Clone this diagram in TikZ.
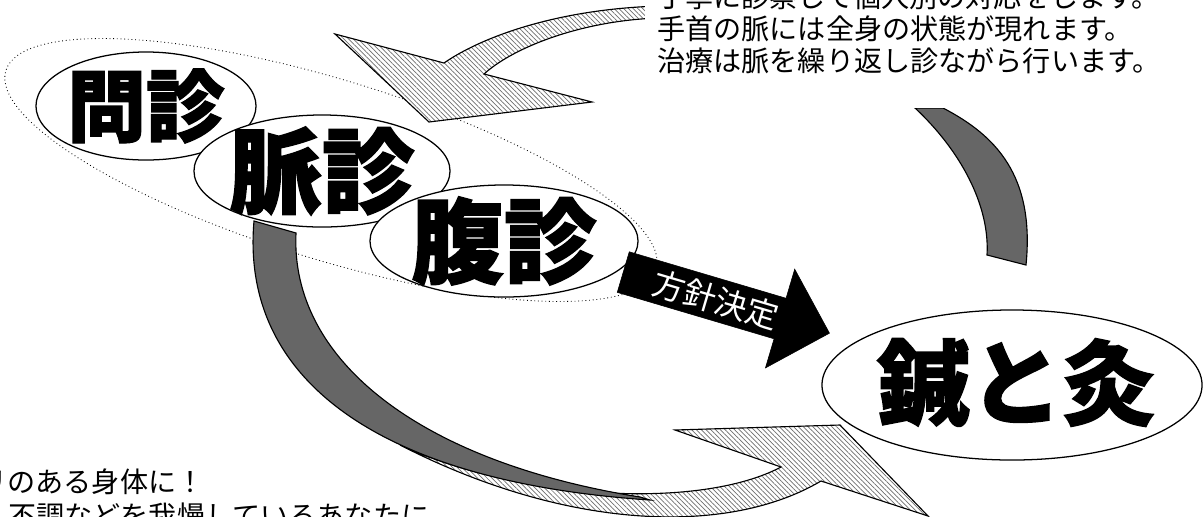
\documentclass[tikz,border=0pt]{standalone}
\usepackage{fontspec}
\usepackage{tikz}
\usetikzlibrary{shapes.geometric, shapes.arrows, patterns.meta}
\newfontfamily\jpfont{Noto Sans CJK JP}[BoldFeatures={FakeBold=1.5}]
\definecolor{bandgray}{RGB}{102, 102, 102}
\definecolor{hatchgray}{RGB}{110, 110, 110}

\begin{document}
\begin{tikzpicture}[
    x=0.025cm, y=-0.025cm,
    oval/.style={
        ellipse,
        draw=black,
        line width=0.9pt,
        fill=white,
        inner sep=0pt
    },
    bigtext/.style={
        font=\jpfont\bfseries\fontsize{#1}{#1}\selectfont,
        inner sep=0pt
    },
    notetext/.style={
        font=\jpfont\fontsize{20}{24}\selectfont,
        anchor=base west,
        inner sep=0pt
    },
    hatched/.style={
        draw=black,
        line width=0.8pt,
        preaction={fill=white},
        pattern={Lines[angle=-45, distance=2.4pt, line width=0.5pt]},
        pattern color=hatchgray
    },
    band/.style={
        draw=black,
        line width=0.8pt,
        fill=bandgray
    },
    policy/.style={
        single arrow,
        fill=black,
        draw=black,
        text=white,
        font=\jpfont\fontsize{23}{23}\selectfont,
        minimum height=5.375cm,
        minimum width=2.575cm,
        single arrow head extend=0.65cm,
        inner sep=2pt,
        rotate=-16.5
    }
]

\useasboundingbox (0,0) rectangle (1203,516);
\clip (0,0) rectangle (1203,516);

% Dotted outline round the three diagnoses
\draw[dotted, line width=0.6pt, rotate around={-17:(331,170)}] (331,170) ellipse [x radius=340, y radius=90];

% Circular arrow: back faces
\draw[band] (915,108) -- (943,108) .. controls (995,135) and (1035,175) .. (1026,265) -- (987,255) .. controls (990,205) and (960,150) .. (915,108) -- cycle;

% Circular arrow: hatched heads
\draw[hatched] (660,6) .. controls (555,9) and (480,38) .. (444,63) -- (335,34) -- (429,122) -- (592,102) -- (484,74) .. controls (515,46) and (585,20) .. (660,18) -- cycle;
\draw[hatched] (781,467) -- (675,430) -- (840,425) -- (928,516) -- (821,481) .. controls (730,535) and (570,532) .. (400,445) .. controls (520,500) and (700,510) .. (781,467) -- cycle;

\draw[band] (254,221) -- (296,233) .. controls (290,360) and (420,462) .. (640,497) -- (650,500) .. controls (380,482) and (240,380) .. (254,221) -- cycle;

% Diagnoses
\node[oval, minimum width=5.5cm, minimum height=2.7cm] (monshin) at (146,106) {};
\node[bigtext=56] (monshinlabel) at (monshin) {問診};
\node[oval, minimum width=6.4cm, minimum height=2.8cm] (myakushin) at (322,171) {};
\node[bigtext=66] (myakushinlabel) at (myakushin) {脈診};
\node[oval, minimum width=6.7cm, minimum height=2.8cm] (fukushin) at (504,241) {};
\node[bigtext=66] (fukushinlabel) at (fukushin) {腹診};

% Decision
\node[policy, anchor=tail] (kettei) at (623,272) {方針決定};

% Treatment
\node[oval, minimum width=9.5cm, minimum height=3.75cm] (shinkyu) at (1012,385) {};
\node[bigtext=66] (shinkyulabel) at (1016,384) {鍼と灸};

% Notes
\fill[white] (645,-2) rectangle (1203,108);
\node[notetext] (note1) at (657,7) {丁寧に診察して個人別の対応をします。};
\node[notetext] (note2) at (657,39) {手首の脈には全身の状態が現れます。};
\node[notetext] (note3) at (657,71) {治療は脈を繰り返し診ながら行います。};

\node[notetext] (appeal1) at (-49,492) {ハリのある身体に！};
\node[notetext] (appeal2) at (8,526) {不調などを我慢しているあなたに};

\end{tikzpicture}
\end{document}
